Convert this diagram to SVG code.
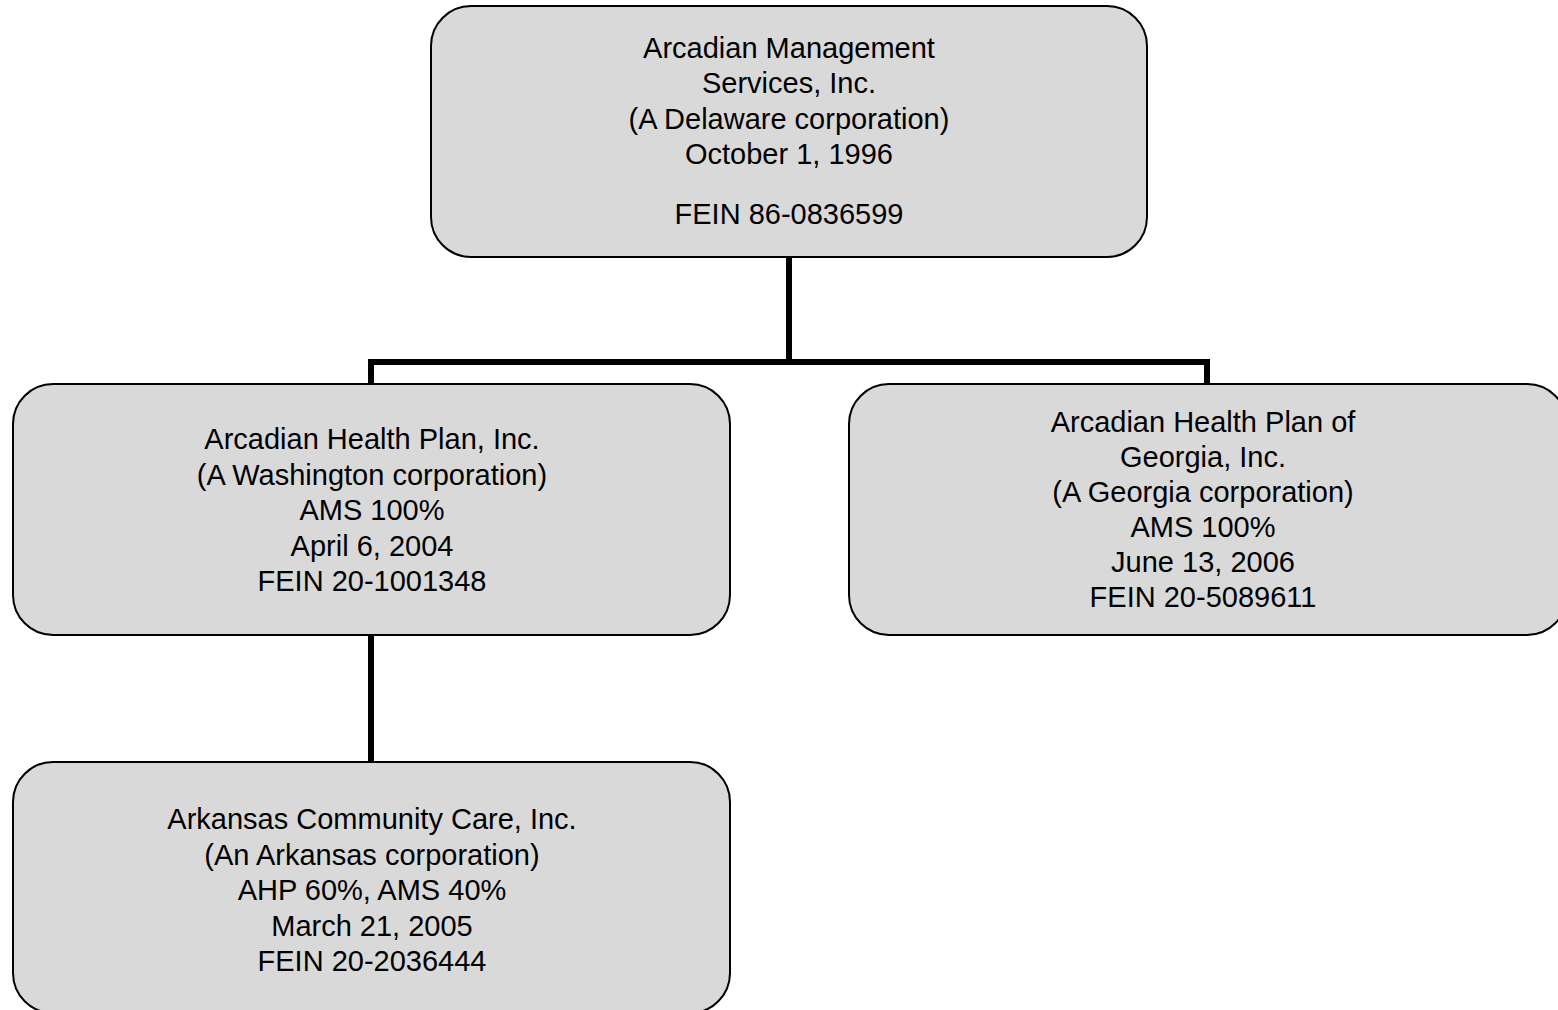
<svg xmlns="http://www.w3.org/2000/svg" width="1558" height="1010" viewBox="0 0 1558 1010">
<style>
.box{fill:#d9d9d9;stroke:#000;stroke-width:2}
.t{font-family:"Liberation Sans",Arial,sans-serif;font-size:29px;fill:#000;text-anchor:middle}
.c{fill:none;stroke:#000;stroke-width:6;stroke-linejoin:miter;stroke-linecap:butt}
</style>
<rect width="1558" height="1010" fill="#fff"/>
<g id="connectors">
<path class="c" d="M789 256 V362 M371 384 V362 H1207 V384"/>
<path class="c" d="M371 634 V762"/>
</g>
<g id="ams">
<rect class="box" x="431" y="6" width="716" height="251" rx="40" ry="40"/>
<text class="t" x="789" y="57.5">Arcadian Management</text>
<text class="t" x="789" y="93">Services, Inc.</text>
<text class="t" x="789" y="128.5">(A Delaware corporation)</text>
<text class="t" x="789" y="164">October 1, 1996</text>
<text class="t" x="789" y="224">FEIN 86-0836599</text>
</g>
<g id="ahp">
<rect class="box" x="13" y="384" width="717" height="251" rx="40" ry="40"/>
<text class="t" x="372" y="449">Arcadian Health Plan, Inc.</text>
<text class="t" x="372" y="484.5">(A Washington corporation)</text>
<text class="t" x="372" y="520">AMS 100%</text>
<text class="t" x="372" y="555.5">April 6, 2004</text>
<text class="t" x="372" y="591">FEIN 20-1001348</text>
</g>
<g id="ahpga">
<rect class="box" x="849" y="384" width="718" height="251" rx="40" ry="40"/>
<text class="t" x="1203" y="432">Arcadian Health Plan of</text>
<text class="t" x="1203" y="467">Georgia, Inc.</text>
<text class="t" x="1203" y="502">(A Georgia corporation)</text>
<text class="t" x="1203" y="537">AMS 100%</text>
<text class="t" x="1203" y="572">June 13, 2006</text>
<text class="t" x="1203" y="607">FEIN 20-5089611</text>
</g>
<g id="acc">
<rect class="box" x="13" y="762" width="717" height="251" rx="40" ry="40"/>
<text class="t" x="372" y="829">Arkansas Community Care, Inc.</text>
<text class="t" x="372" y="864.5">(An Arkansas corporation)</text>
<text class="t" x="372" y="900">AHP 60%, AMS 40%</text>
<text class="t" x="372" y="935.5">March 21, 2005</text>
<text class="t" x="372" y="971">FEIN 20-2036444</text>
</g>
</svg>
